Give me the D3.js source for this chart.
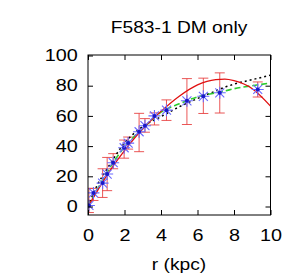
<!DOCTYPE html>
<html>
<head>
<meta charset="utf-8">
<script src="https://cdn.jsdelivr.net/npm/d3@7"></script>
<style>
  body { margin: 0; background: #fff; }
  text { font-family: "Liberation Sans", Arial, sans-serif; font-size: 16px; fill: #000; }
</style>
</head>
<body>
<div id="chart"></div>
<script>
//size of the view
var width = 300,
    height = 277;

//observed points: radius, velocity, error, and model value (blue stars)
var radius = [0.05, 0.3, 0.8, 1.05, 1.38, 1.98, 2.2, 2.8, 3.12, 3.64, 4.3, 5.42, 6.32, 7.22, 9.3];
var velObs = [4, 8, 15.5, 21.5, 30, 38, 42, 49, 53.7, 58, 63.8, 69.5, 73.3, 75.2, 77.5];
var velErr = [8, 4, 9.5, 11, 5, 6, 4, 12.7, 4.5, 4, 6.8, 15.2, 11.7, 13.3, 5];
var velStar = [0.7, 9, 15.5, 21.5, 29, 38.9, 42, 49.5, 53.5, 60, 63.8, 70, 73, 75.3, 77.5];

//fitted curves
var curveR = [0, 0.5, 1, 2, 3, 4, 5, 6, 7, 7.5, 8, 9, 10];
var redCurve = [0, 10, 20, 37, 51.5, 63, 73, 80.5, 84, 84.3, 83.3, 78, 66.5];
var greenCurve = [0, 11, 21.7, 39.5, 51.5, 62.5, 68, 72.6, 75.3, 76.5, 78, 80, 81.8];
var blackCurve = [0, 14, 24, 42, 53, 59.5, 66, 71.5, 76.5, 79, 81, 84, 87];

var xTicks = [0, 2, 4, 6, 8, 10];
var yTicks = [0, 20, 40, 60, 80, 100];

//frame edges (not "top": that name is taken by window.top)
var plotL = 88, plotR = 270.5, plotT = 55, plotB = 215;

var x = d3.scaleLinear().domain([0, 10]).range([plotL, plotR]);
var y = d3.scaleLinear().domain([0, 100]).range([206.5, 55.5]);

var svg = d3.select("#chart").append("svg")
    .attr("width", width)
    .attr("height", height);

//clip the curves to the frame
svg.append("clipPath").attr("id", "clip")
  .append("rect")
    .attr("x", plotL).attr("y", plotT)
    .attr("width", plotR - plotL).attr("height", plotB - plotT);

var plot = svg.append("g").attr("clip-path", "url(#clip)");

var line = function(vals) {
  return d3.line()
    .x(function(d, i) { return x(curveR[i]); })
    .y(function(d) { return y(d); })
    .curve(d3.curveMonotoneX)(vals);
};

//error bars
var bars = plot.selectAll(".err")
    .data(radius).enter().append("g")
      .attr("class", "err")
      .attr("stroke", "#e63a3a")
      .attr("stroke-opacity", 0.85)
      .attr("stroke-width", 1);

bars.append("line")
    .attr("x1", function(d) { return x(d); })
    .attr("x2", function(d) { return x(d); })
    .attr("y1", function(d, i) { return y(velObs[i] - velErr[i]); })
    .attr("y2", function(d, i) { return y(velObs[i] + velErr[i]); });

bars.append("line")
    .attr("x1", function(d) { return x(d) - 5; })
    .attr("x2", function(d) { return x(d) + 5; })
    .attr("y1", function(d, i) { return y(velObs[i] + velErr[i]); })
    .attr("y2", function(d, i) { return y(velObs[i] + velErr[i]); });

bars.append("line")
    .attr("x1", function(d) { return x(d) - 5; })
    .attr("x2", function(d) { return x(d) + 5; })
    .attr("y1", function(d, i) { return y(velObs[i] - velErr[i]); })
    .attr("y2", function(d, i) { return y(velObs[i] - velErr[i]); });

//curves
plot.append("path")
    .attr("d", line(blackCurve))
    .attr("fill", "none")
    .attr("stroke", "#000")
    .attr("stroke-width", 1.5)
    .attr("stroke-dasharray", "2,3");

plot.append("path")
    .attr("d", line(greenCurve))
    .attr("fill", "none")
    .attr("stroke", "#2ecc2e")
    .attr("stroke-width", 1.6)
    .attr("stroke-dasharray", "6,3");

plot.append("path")
    .attr("d", line(redCurve))
    .attr("fill", "none")
    .attr("stroke", "#e01010")
    .attr("stroke-width", 1.3);

//blue star markers
var star = plot.selectAll(".star")
    .data(radius).enter().append("g")
      .attr("class", "star")
      .attr("transform", function(d, i) { return "translate(" + x(d) + "," + y(velStar[i]) + ")"; });

star.append("path")
    .attr("d", "M-6,0H6M0,-6V6M-4.5,-4.5L4.5,4.5M-4.5,4.5L4.5,-4.5")
    .attr("stroke", "#6a6aff")
    .attr("stroke-width", 1.1);

star.append("circle")
    .attr("r", 2)
    .attr("fill", "#1818c8");

//frame and ticks
svg.append("rect")
    .attr("x", plotL).attr("y", plotT)
    .attr("width", plotR - plotL).attr("height", plotB - plotT)
    .attr("fill", "none")
    .attr("stroke", "#000")
    .attr("stroke-width", 1);

var gx = svg.append("g")
    .attr("transform", "translate(0," + plotB + ")")
    .call(d3.axisBottom(x).tickValues(xTicks).tickSize(-5).tickPadding(14));

svg.append("g")
    .attr("transform", "translate(0," + plotT + ")")
    .call(d3.axisTop(x).tickValues(xTicks).tickSize(-5).tickFormat(""));

var gy = svg.append("g")
    .attr("transform", "translate(" + plotL + ",0)")
    .call(d3.axisLeft(y).tickValues(yTicks).tickSize(-5).tickPadding(8.5));

svg.append("g")
    .attr("transform", "translate(" + plotR + ",0)")
    .call(d3.axisRight(y).tickValues(yTicks.slice(0, 5)).tickSize(-5).tickFormat(""));

svg.selectAll(".domain").remove();
svg.selectAll(".tick line").attr("stroke", "#000");

//wide helvetica look
gx.selectAll("text").attr("transform", "scale(1.2,1)");
gy.selectAll("text").attr("transform", "scale(1.2,1)");
svg.selectAll(".tick text")
    .attr("font-size", null).attr("font-family", null)
    .style("font-size", "16.5px").attr("fill", "#000");

svg.append("text")
    .attr("transform", "translate(179,33) scale(1.2,1)")
    .attr("text-anchor", "middle")
    .text("F583-1 DM only");

svg.append("text")
    .attr("transform", "translate(179,270) scale(1.2,1)")
    .attr("text-anchor", "middle")
    .text("r (kpc)");
</script>
</body>
</html>
